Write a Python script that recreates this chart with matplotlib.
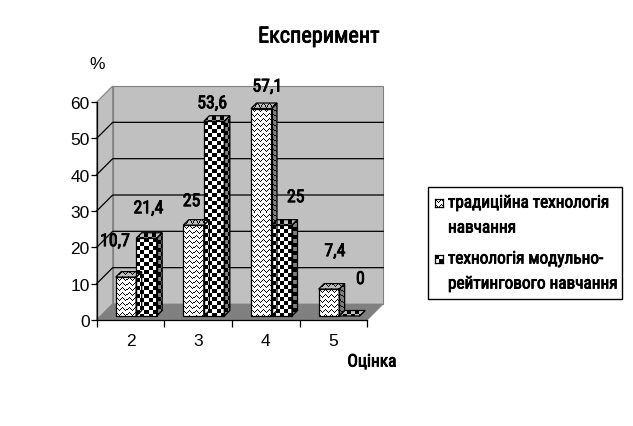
"""Excel-style 3D clustered columns, drawn on a flat axes with fake depth."""
import matplotlib

matplotlib.use("Agg")
import matplotlib.patheffects as pe
import matplotlib.pyplot as plt
import numpy as np
from matplotlib.patches import Polygon, Rectangle

categories = ["2", "3", "4", "5"]
traditional = [10.7, 25, 57.1, 7.4]
modular = [21.4, 53.6, 25, 0]
traditional_labels = ["10,7", "25", "57,1", "7,4"]
modular_labels = ["21,4", "53,6", "25", "0"]
y_ticks = [0, 10, 20, 30, 40, 50, 60]
legend_lines_1 = ["традиційна технологія", "навчання"]
legend_lines_2 = ["технологія модульно-", "рейтингового навчання"]

W, H = 633, 427
# front plane of the chart in pixels
LEFT, RIGHT, BOTTOM, TOP = 96.7, 367.3, 321, 103
PX_X = (RIGHT - LEFT) / 4
PX_Y = (BOTTOM - TOP) / 60

WALL = "#c0c0c0"
FLOOR = "#808080"
NARROW = ["Roboto Condensed", "Liberation Sans"]
ARIAL = ["Liberation Sans"]

plt.rcParams["font.family"] = ARIAL

CHECK = np.kron(np.array([[0, 1], [1, 0]]), np.ones((4, 4)))
WAVE = np.ones((5, 6))
for col, row in enumerate([0, 1, 2, 3, 2, 1]):
    WAVE[row % 5, col] = 0


def dx(px):
    return px / PX_X


def dy(px):
    return px / PX_Y


def pattern(ax, poly, tile, fg="#000000", bg="#ffffff"):
    """Fill a polygon (data coords) with a pixel tile, like a GDI brush."""
    poly = np.asarray(poly, dtype=float)
    x0, x1 = poly[:, 0].min(), poly[:, 0].max()
    y0, y1 = poly[:, 1].min(), poly[:, 1].max()
    nx = max(int(round((x1 - x0) * PX_X)), 1)
    ny = max(int(round((y1 - y0) * PX_Y)), 1)
    rows = int(ny / tile.shape[0]) + 2
    cols = int(nx / tile.shape[1]) + 2
    grid = np.tile(tile, (rows, cols))[:ny, :nx]
    fg_rgb = np.array(matplotlib.colors.to_rgb(fg))
    bg_rgb = np.array(matplotlib.colors.to_rgb(bg))
    img = fg_rgb + grid[..., None] * (bg_rgb - fg_rgb)
    im = ax.imshow(img, extent=(x0, x1, y0, y1), origin="upper", aspect="auto",
                   interpolation="nearest", zorder=4, clip_on=True)
    patch = Polygon(poly, closed=True, transform=ax.transData, fill=False, lw=0)
    ax.add_patch(patch)
    im.set_clip_path(patch)
    ax.add_patch(Polygon(poly, closed=True, fill=False, ec="black", lw=0.9,
                         zorder=5, clip_on=False))


def bar3d(ax, x, value, tile):
    w = dx(BAR_W)
    base_x = x + dx(PLANE)
    base_y = dy(PLANE)
    top = base_y + value
    ddx, ddy = dx(BAR_D), dy(BAR_D)
    side = [(base_x + w, base_y), (base_x + w + ddx, base_y + ddy),
            (base_x + w + ddx, top + ddy), (base_x + w, top)]
    roof = [(base_x, top), (base_x + ddx, top + ddy),
            (base_x + w + ddx, top + ddy), (base_x + w, top)]
    front = [(base_x, base_y), (base_x + w, base_y), (base_x + w, top), (base_x, top)]
    pattern(ax, side, tile, fg="#000000", bg=FLOOR)
    pattern(ax, roof, tile, fg="#000000", bg=WALL)
    if value > 0:
        pattern(ax, front, tile)


BAR_W = 20.5
BAR_D = 5.5
PLANE = 4
GROUP_START = 15
DEPTH = 16

fig = plt.figure(figsize=(W / 100, H / 100), dpi=100, facecolor="white")
ax = fig.add_axes([LEFT / W, 1 - BOTTOM / H, (RIGHT - LEFT) / W, (BOTTOM - TOP) / H])
ax.patch.set_visible(False)
for s in ax.spines.values():
    s.set_visible(False)
ax.spines["left"].set_visible(True)
ax.spines["bottom"].set_visible(True)
ax.spines["left"].set_linewidth(0.9)
ax.spines["bottom"].set_linewidth(0.9)

ddx, ddy = dx(DEPTH), dy(DEPTH)
# walls and floor
ax.add_patch(Polygon([(ddx, ddy), (4 + ddx, ddy), (4 + ddx, 60 + ddy), (ddx, 60 + ddy)],
                     fc=WALL, ec=FLOOR, lw=0.8, zorder=1, clip_on=False))
ax.add_patch(Polygon([(0, 0), (ddx, ddy), (ddx, 60 + ddy), (0, 60)],
                     fc=WALL, ec=FLOOR, lw=0.8, zorder=1, clip_on=False))
ax.add_patch(Polygon([(0, 0), (4, 0), (4 + ddx, ddy), (ddx, ddy)],
                     fc=FLOOR, ec=FLOOR, lw=0.5, zorder=1.5, clip_on=False))
for t in y_ticks[1:-1]:
    ax.plot([0, ddx, 4 + ddx], [t, t + ddy, t + ddy], color="black", lw=0.9,
            zorder=2, clip_on=False)

positions = np.arange(len(categories))
for i in positions:
    x = i + dx(GROUP_START)
    bar3d(ax, x, traditional[i], WAVE)
    bar3d(ax, x + dx(BAR_W), modular[i], CHECK)

label_style = dict(fontsize=12.8, family=NARROW, ha="center", va="center", zorder=8,
                   textcoords="offset pixels", annotation_clip=False,
                   path_effects=[pe.withStroke(linewidth=0.6, foreground="black")])
trad_offsets = [(-11, 36), (-2, 24), (6, 22), (6, 38)]
mod_offsets = [(2, 30), (-2, 18), (14, 28), (11, 37)]
for i in positions:
    x = i + dx(GROUP_START + PLANE)
    ax.annotate(traditional_labels[i], (x + dx(BAR_W / 2), traditional[i] + dy(PLANE)),
                xytext=trad_offsets[i], **label_style)
    ax.annotate(modular_labels[i], (x + dx(1.5 * BAR_W), modular[i] + dy(PLANE)),
                xytext=mod_offsets[i], **label_style)

ax.set_xlim(0, 4)
ax.set_ylim(0, 60)
ax.set_xticks(range(5))
ax.set_xticklabels([])
ax.set_yticks(y_ticks)
ax.set_yticklabels([str(t) for t in y_ticks], fontsize=12.5)
ax.tick_params(axis="y", length=4, width=0.9, pad=1)
ax.tick_params(axis="x", length=5, width=0.9)
for i, c in zip(positions, categories):
    ax.annotate(c, (i + 0.5, 0), xytext=(0, -21), textcoords="offset pixels",
                ha="center", va="center", fontsize=12.5, annotation_clip=False)


def px_text(x, y, s, **kw):
    fig.text(x / W, 1 - y / H, s, va="center", **kw)


stroke = [pe.withStroke(linewidth=0.6, foreground="black")]
px_text(319, 38, "Експеримент", ha="center", fontsize=16, family=NARROW, path_effects=stroke)
px_text(97, 65, "%", ha="center", fontsize=12.5, family=ARIAL)
px_text(372, 363, "Оцінка", ha="center", fontsize=12.5, family=NARROW, path_effects=stroke)

# legend, hand built because of the two-line entries and pixel swatches
fig.add_artist(Rectangle((428 / W, 1 - 300 / H), 194 / W, 112 / H, fc="white", ec="black",
                         lw=1.0, transform=fig.transFigure, zorder=-1))
for y, line in zip([204, 229], legend_lines_1):
    px_text(448, y, line, ha="left", fontsize=12.4, family=NARROW, path_effects=stroke)
for y, line in zip([260, 285], legend_lines_2):
    px_text(448, y, line, ha="left", fontsize=12.4, family=NARROW, path_effects=stroke)
for y, tile in [(204, WAVE), (260, CHECK)]:
    sw = fig.add_axes([435 / W, 1 - (y + 4) / H, 8 / W, 8 / H])
    sw.imshow(np.tile(tile, (2, 2))[:8, :8], cmap="gray", vmin=0, vmax=1,
              interpolation="nearest", aspect="auto")
    sw.set_xticks([])
    sw.set_yticks([])
    for s in sw.spines.values():
        s.set_linewidth(0.9)

fig.savefig("out.png", dpi=100)
